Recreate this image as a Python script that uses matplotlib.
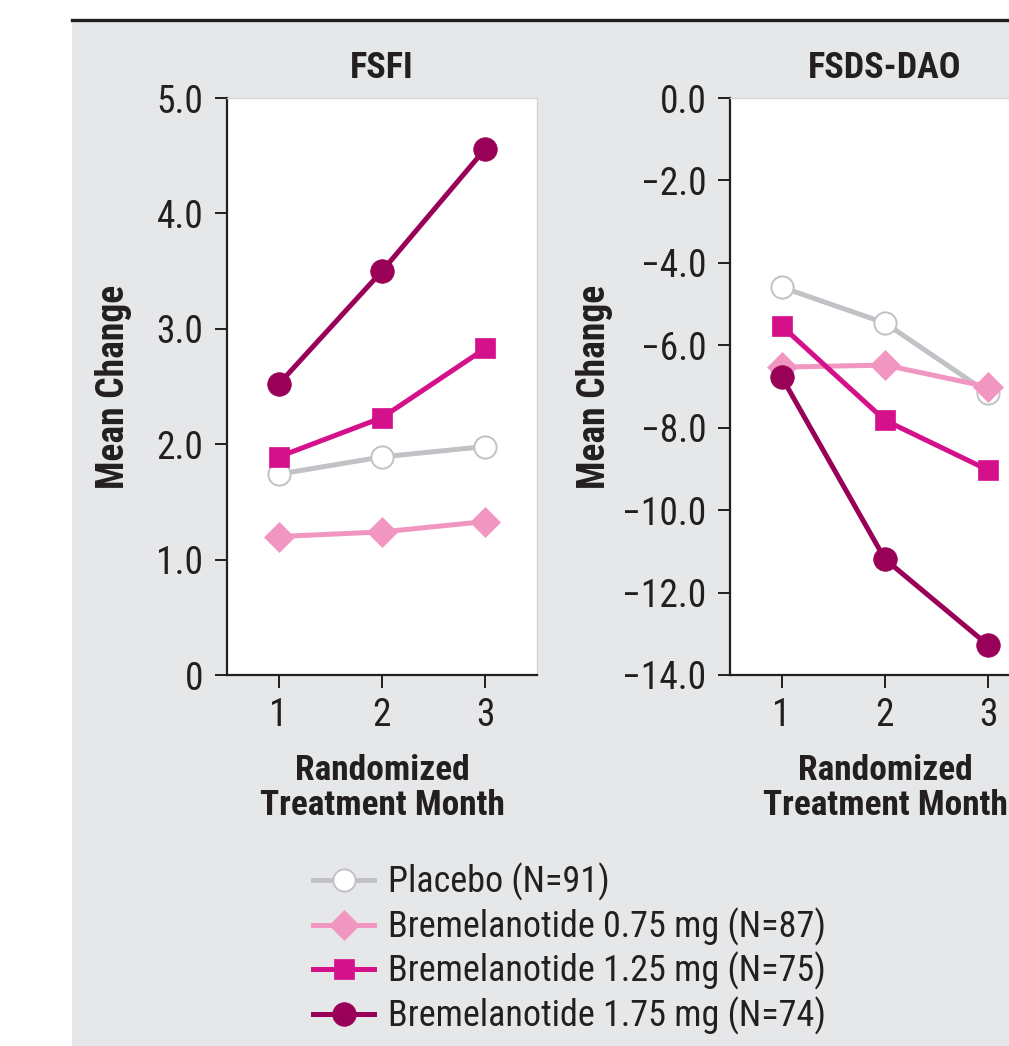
import matplotlib
matplotlib.use("Agg")
import matplotlib.pyplot as plt
import matplotlib.font_manager as fm
from matplotlib.patches import Rectangle
from matplotlib.lines import Line2D

# 优先使用窄体字体
FONT = None
STRETCH = "normal"
SCALE = 1.0
_fonts = fm.fontManager.ttflist
_names = {f.name for f in _fonts}
for name in ["Liberation Sans Narrow", "Roboto Condensed", "Open Sans Condensed",
             "Noto Sans Condensed", "DejaVu Sans Condensed"]:
    if name in _names:
        FONT = name
        break
if FONT is None:
    for f in _fonts:
        if f.stretch in ("condensed", "semi-condensed", 600, 700, 687) and \
                f.name in ("Noto Sans", "Open Sans", "Roboto", "DejaVu Sans"):
            FONT = f.name
            STRETCH = "condensed"
            break
if FONT is None:
    FONT = "Liberation Sans"
    SCALE = 0.84
plt.rcParams["font.family"] = [FONT, "DejaVu Sans"]
plt.rcParams["font.stretch"] = STRETCH
plt.rcParams["axes.unicode_minus"] = True

# 数据
months = [1, 2, 3]
groups = ["Placebo (N=91)", "Bremelanotide 0.75 mg (N=87)",
          "Bremelanotide 1.25 mg (N=75)", "Bremelanotide 1.75 mg (N=74)"]
fsfi = [
    [1.74, 1.89, 1.98],
    [1.20, 1.24, 1.33],
    [1.89, 2.23, 2.83],
    [2.52, 3.50, 4.56],
]
fsds_dao = [
    [-4.59, -5.46, -7.16],
    [-6.53, -6.48, -7.01],
    [-5.53, -7.82, -9.03],
    [-6.77, -11.19, -13.28],
]
fsfi_ticks = [0, 1, 2, 3, 4, 5]
fsfi_ticklabels = ["0", "1.0", "2.0", "3.0", "4.0", "5.0"]
dao_ticks = [0, -2, -4, -6, -8, -10, -12, -14]
dao_ticklabels = ["0.0", "\u22122.0", "\u22124.0", "\u22126.0", "\u22128.0",
                  "\u221210.0", "\u221212.0", "\u221214.0"]

# 样式
LINE_COLORS = ["#c1c2c6", "#f196c0", "#d5108b", "#990058"]
FACE_COLORS = ["#ffffff", "#f196c0", "#d5108b", "#990058"]
MARKERS = ["o", "D", "s", "o"]
MSIZES = [16, 15, 15, 17]
BG_COLOR = "#e6e7e9"
TEXT_COLOR = "#231f20"
FS_TICK = 27 * SCALE
FS_BOLD = 26 * SCALE
FS_LEGEND = 26 * SCALE

W, H = 1009, 1046
fig = plt.figure(figsize=(W / 100, H / 100), dpi=100)
fig.patch.set_facecolor("white")

fig.patches.append(Rectangle((72 / W, 0), 1 - 72 / W, 1 - 20 / H,
                             transform=fig.transFigure, facecolor=BG_COLOR,
                             edgecolor="none", zorder=-5))
fig.lines.append(Line2D([72 / W, 1], [1 - 20 / H, 1 - 20 / H],
                        transform=fig.transFigure, color=TEXT_COLOR,
                        linewidth=2.4, zorder=-4))


def _panel(left_px, title, data, ticks, ticklabels, ylim):
    ax = fig.add_axes([left_px / W, (H - 675) / H, 310 / W, 577 / H])
    ax.set_facecolor("white")
    lines = []
    for i, ys in enumerate(data):
        ln, = ax.plot(months, ys, color=LINE_COLORS[i], linewidth=3.6,
                      marker=MARKERS[i], markersize=MSIZES[i],
                      markerfacecolor=FACE_COLORS[i],
                      markeredgecolor=LINE_COLORS[i] if i == 0 else FACE_COLORS[i],
                      markeredgewidth=1.4 if i == 0 else 0.5,
                      zorder=3 + i, label=groups[i])
        lines.append(ln)
    ax.set_xlim(0.5, 3.5)
    ax.set_ylim(*ylim)
    ax.set_xticks(months)
    ax.set_xticklabels([str(m) for m in months])
    ax.set_yticks(ticks)
    ax.set_yticklabels(ticklabels)
    for side in ["left", "bottom"]:
        ax.spines[side].set_color(TEXT_COLOR)
        ax.spines[side].set_linewidth(1.6)
    for side in ["top", "right"]:
        ax.spines[side].set_color("#d4d5d8")
        ax.spines[side].set_linewidth(1.0)
    ax.tick_params(axis="both", direction="out", length=9, width=1.4,
                   color=TEXT_COLOR, labelcolor=TEXT_COLOR, labelsize=FS_TICK)
    ax.tick_params(axis="y", pad=8)
    ax.tick_params(axis="x", pad=7)

    xt = ax.get_xaxis_transform()
    ax.text(2, 1.052, title, transform=xt, ha="center", va="center",
            fontsize=FS_BOLD, fontweight="bold", color=TEXT_COLOR)
    ax.text(2, -0.196, "Randomized\nTreatment Month", transform=xt,
            ha="center", va="center", fontsize=FS_BOLD * 0.98, fontweight="bold",
            color=TEXT_COLOR, linespacing=1.1)
    return ax, lines


ax1, handles = _panel(227, "FSFI", fsfi, fsfi_ticks, fsfi_ticklabels, (0, 5))
ax1.text(-0.365, 0.5, "Mean Change", transform=ax1.transAxes, rotation=90,
         ha="center", va="center", fontsize=FS_BOLD * 1.04, fontweight="bold",
         color=TEXT_COLOR)

ax2, _ = _panel(730, "FSDS-DAO", fsds_dao, dao_ticks, dao_ticklabels, (-14, 0))
ax2.text(-0.436, 0.5, "Mean Change", transform=ax2.transAxes, rotation=90,
         ha="center", va="center", fontsize=FS_BOLD * 1.04, fontweight="bold",
         color=TEXT_COLOR)

fig.legend(handles=handles, loc="upper left",
           bbox_to_anchor=(313 / W, 1 - 863 / H), frameon=False,
           fontsize=FS_LEGEND, handlelength=1.7, handletextpad=0.38,
           labelspacing=0.17, borderpad=0, borderaxespad=0,
           labelcolor=TEXT_COLOR)

fig.savefig("out.png", dpi=100, facecolor=fig.get_facecolor())
